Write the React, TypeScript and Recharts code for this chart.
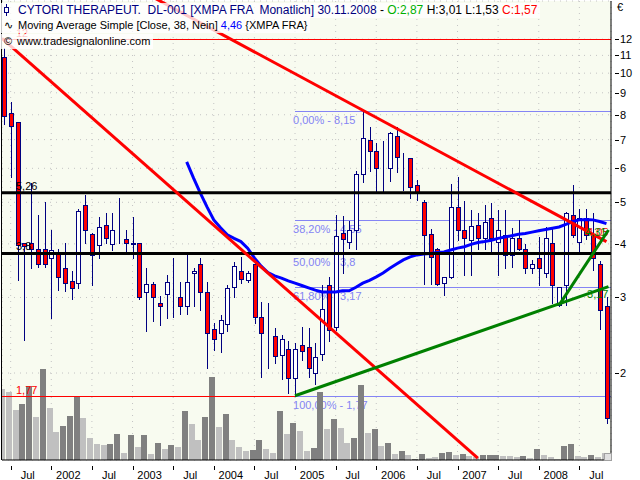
import React from 'react';
import { ComposedChart, Bar, Line, XAxis, YAxis, CartesianGrid, ReferenceLine } from 'recharts';

const FONT = "'Liberation Sans', Arial, sans-serif";
const NAVY = '#000080';
const FIB_COLOR = '#8484f4';
const GRID_COLOR = '#c4c4c4';

// Monthly candles, Jun 2001 .. Nov 2008 (index 0..89), price in EUR
const OPEN = [10.89, 8.06, 7.68, 4.01, 4.01, 3.90, 3.89, 3.70, 3.79, 3.51,
  3.28, 3.25, 4.93, 4.22, 3.98, 4.43, 3.99, 4.12, 4.10, 4.01,
  4.01, 3.09, 3.22, 2.91, 3.05, 3.09, 3.01, 2.87, 3.42, 3.60,
  3.09, 2.53, 2.48, 2.60, 3.17, 3.46, 3.30, 3.60, 2.70, 2.46,
  2.44, 2.20, 2.28, 1.95, 2.32, 2.30, 2.00, 2.22, 3.21, 2.56,
  4.25, 4.03, 4.32, 5.82, 6.99, 6.59, 6.02, 6.02, 7.14, 6.33,
  6.33, 5.49, 5.00, 4.21, 3.90, 3.25, 3.34, 4.88, 4.31, 4.08,
  4.43, 4.12, 4.60, 4.03, 4.20, 3.77, 4.12, 3.90, 3.51, 3.70,
  3.42, 4.01, 2.88, 3.21, 4.67, 4.05, 4.59, 4.20, 3.60, 2.87];
const HIGH = [11.45, 8.58, 7.70, 4.02, 5.54, 4.67, 5.02, 4.31, 3.89, 4.01,
  3.46, 4.82, 5.20, 4.23, 4.63, 4.71, 4.71, 5.13, 4.31, 4.63,
  4.02, 3.51, 3.26, 3.02, 3.38, 3.70, 3.26, 3.77, 3.51, 3.70,
  3.26, 2.61, 2.73, 3.21, 3.62, 3.72, 3.45, 3.63, 2.93, 2.92,
  2.54, 2.45, 2.38, 2.35, 2.56, 2.54, 2.35, 3.21, 3.35, 4.67,
  4.65, 4.53, 5.92, 8.15, 7.50, 6.89, 6.95, 7.30, 7.50, 6.51,
  6.35, 5.64, 5.06, 4.33, 3.92, 3.35, 5.52, 5.72, 5.04, 4.80,
  4.71, 4.93, 4.97, 4.80, 4.80, 4.35, 4.55, 4.00, 3.67, 4.16,
  4.39, 4.33, 3.18, 4.75, 5.49, 4.82, 4.82, 4.71, 3.64, 3.01];
const LOW = [7.61, 5.74, 3.29, 2.39, 3.51, 3.54, 3.54, 2.68, 3.12, 3.11,
  2.97, 3.15, 4.01, 3.21, 3.70, 4.01, 3.87, 4.01, 3.86, 3.70,
  2.98, 2.50, 2.65, 2.59, 2.68, 2.70, 2.75, 2.75, 2.86, 2.80,
  2.05, 2.26, 2.24, 2.50, 3.01, 3.24, 3.26, 2.61, 1.96, 2.05,
  2.11, 1.94, 1.80, 1.77, 2.14, 1.96, 1.89, 2.14, 2.38, 2.52,
  3.43, 3.92, 3.89, 5.58, 5.92, 5.32, 5.32, 5.61, 5.89, 5.34,
  5.11, 5.06, 3.23, 3.23, 3.20, 3.04, 3.33, 4.08, 3.38, 3.38,
  3.90, 3.90, 3.83, 3.38, 3.51, 3.54, 3.87, 3.42, 3.42, 3.21,
  3.35, 2.91, 2.87, 2.88, 4.16, 3.81, 4.10, 3.48, 2.53, 1.53];
const CLOSE = [7.96, 7.53, 3.98, 3.95, 3.90, 3.60, 3.60, 3.87, 3.35, 3.25,
  3.15, 4.77, 4.31, 3.77, 4.37, 4.12, 4.31, 4.12, 4.01, 3.99,
  3.00, 3.22, 3.00, 2.86, 3.26, 3.09, 2.87, 3.26, 3.46, 3.09,
  2.48, 2.40, 2.66, 3.15, 3.55, 3.31, 3.42, 2.70, 2.48, 2.46,
  2.19, 2.40, 1.95, 2.27, 2.25, 2.06, 2.18, 2.82, 2.52, 4.17,
  4.10, 4.32, 5.82, 7.05, 6.59, 6.02, 6.02, 7.24, 6.39, 6.33,
  5.42, 5.25, 4.20, 3.72, 3.23, 3.34, 4.88, 4.31, 4.12, 4.40,
  4.12, 4.51, 4.12, 4.32, 3.77, 4.12, 3.90, 3.51, 3.60, 3.51,
  4.12, 3.21, 3.18, 4.71, 4.20, 4.60, 4.20, 3.70, 2.80, 1.57];
// Volume (relative units) and its bar shade (1 = dark grey, 0 = light grey)
const VOLUME = [71, 68, 50, 56, 74, 43, 91, 52, 28, 34,
  44, 63, 42, 22, 16, 15, 16, 26, 7, 25,
  13, 25, 6, 17, 11, 15, 13, 49, 36, 20,
  43, 83, 33, 46, 20, 13, 9, 10, 20, 11,
  7, 49, 26, 37, 29, 9, 12, 68, 31, 41,
  32, 17, 22, 75, 27, 31, 14, 17, 6, 9,
  5, 1, 6, 2, 3, 7, 8, 5, 6, 4,
  3, 5, 5, 5, 4, 4, 3, 4, 2, 11,
  5, 3, 1, 14, 16, 4, 3, 5, 3, 7];
const VOL_DARK = [0, 0, 0, 1, 1, 0, 1, 0, 0, 1,
  1, 1, 0, 0, 0, 0, 1, 1, 0, 1,
  0, 1, 0, 1, 0, 1, 0, 1, 0, 0,
  1, 1, 0, 1, 0, 0, 0, 1, 1, 0,
  0, 1, 0, 1, 0, 0, 1, 1, 0, 1,
  0, 0, 1, 1, 0, 1, 0, 1, 0, 1,
  0, 1, 1, 0, 0, 1, 1, 0, 1, 0,
  0, 1, 1, 1, 0, 0, 0, 1, 0, 1,
  0, 0, 0, 1, 1, 0, 0, 1, 0, 0];
// Simple moving average (38), visible from index 27
const MA_VISIBLE = [6.21, 5.70, 5.26, 4.88, 4.55, 4.36, 4.20, 4.12, 4.05, 3.91,
  3.71, 3.55, 3.43, 3.37, 3.33, 3.28, 3.24, 3.20, 3.16, 3.12,
  3.09, 3.09, 3.09, 3.11, 3.11, 3.17, 3.24, 3.29, 3.35, 3.42,
  3.51, 3.59, 3.67, 3.73, 3.77, 3.79, 3.80, 3.82, 3.83, 3.87,
  3.91, 3.94, 3.99, 4.03, 4.05, 4.08, 4.12, 4.15, 4.18, 4.21,
  4.23, 4.26, 4.29, 4.32, 4.35, 4.38, 4.44, 4.51, 4.55, 4.56,
  4.55, 4.51, 4.46];
const MA_START = 27;

const X_MIN = -0.28;
const X_MAX = 89.67;
const X_TICKS = [1, 7, 13, 19, 25, 31, 37, 43, 49, 55, 61, 67, 73, 79, 85];
const X_TICK_LABELS = ['Jul', '2002', 'Jul', '2003', 'Jul', '2004', 'Jul', '2005', 'Jul', '2006', 'Jul', '2007', 'Jul', '2008', 'Jul'];
const Y_TICKS = [2, 3, 4, 5, 6, 7, 8, 9, 10, 11, 12];
const Y_MIN = 1.254;
const Y_MAX = 14.73;
const VOL_MAX = 459;

const FIB_VALUES = [8.15, 4.55, 3.8, 3.17, 1.77];
const FIB_LABELS = ['0,00% - 8,15', '38,20% - 4,55', '50,00% - 3,8', '61,80% - 3,17', '100,00% - 1,77'];
const FIB_START = 43;

const BLACK_LEVELS = [5.26, 3.8];
const BLACK_LABELS = ['5,26', '3,8'];
const RED_LEVELS = [12, 1.77];
const RED_LABELS = ['12', '1,77'];
const RED_LEVEL_END = [X_MAX, 43];

const TREND_RED_A = [[X_MIN, 12.05], [70, 1.266]];
const TREND_RED_B = [[22, 15.04], [89, 4.05]];
const TREND_GREEN_C = [[43, 1.77], [89.3, 3.18]];
const TREND_GREEN_D = [[82, 2.88], [89.3, 4.31]];
const TREND_LABELS = ['4,05', '3,17', '4,31'];

const data = OPEN.map((o, i) => ({
  i,
  open: o,
  high: HIGH[i],
  low: LOW[i],
  close: CLOSE[i],
  vol: VOLUME[i],
  dark: VOL_DARK[i],
  ma: i >= MA_START ? MA_VISIBLE[i - MA_START] : null,
}));

const Candle = (props: any) => {
  const { x, y, width, height, payload } = props;
  if (!payload || x == null || y == null) return null;
  const top = Math.min(y, y + height);
  const bot = Math.max(y, y + height);
  const lh = Math.log(payload.high);
  const ll = Math.log(payload.low);
  const span = lh - ll || 1;
  const py = (v: number) => top + ((lh - Math.log(v)) / span) * (bot - top);
  const cx = Math.round(x + width / 2) + 0.5;
  const yo = py(payload.open);
  const yc = py(payload.close);
  const up = payload.close >= payload.open;
  const bTop = Math.round(Math.min(yo, yc)) + 0.5;
  const bBot = Math.round(Math.max(yo, yc)) + 0.5;
  return (
    <g>
      <line x1={cx} x2={cx} y1={Math.round(top)} y2={Math.round(bot) + 1} stroke={NAVY} strokeWidth={1} />
      <rect x={cx - 2} y={bTop} width={4} height={Math.max(0, bBot - bTop)} fill={up ? '#ffffff' : '#ff0000'} stroke={NAVY} strokeWidth={1} />
    </g>
  );
};

const VolBar = (props: any) => {
  const { x, y, width, height, payload } = props;
  if (!payload || x == null) return null;
  const top = Math.round(Math.min(y, y + height));
  const bot = Math.round(Math.max(y, y + height));
  return <rect x={Math.round(x)} y={top} width={Math.round(width)} height={bot - top} fill={payload.dark ? '#808080' : '#c0c0c0'} />;
};

const XTick = (props: any) => {
  const { x, y, payload } = props;
  const idx = X_TICKS.indexOf(payload.value);
  const tx = Math.round(x) + 0.5;
  return (
    <g>
      <line x1={tx} x2={tx} y1={y + 4} y2={y + 8} stroke="#000" />
      <text x={x + 17} y={y + 17} textAnchor="middle" fontSize={11} fontFamily={FONT} fill="#000">
        {X_TICK_LABELS[idx]}
      </text>
    </g>
  );
};

const YTick = (props: any) => {
  const { x, y, payload } = props;
  const ty = Math.round(y) + 0.5;
  return (
    <g>
      <line x1={x + 2} x2={x + 6} y1={ty} y2={ty} stroke="#000" />
      <text x={x + 7} y={y + 4} fontSize={11} fontFamily={FONT} fill="#000">
        {payload.value}
      </text>
    </g>
  );
};

const labeledLine = (text: string, color: string, where: 'start' | 'end', dx: number, dy: number, anchor: string, crisp: boolean) => (p: any) => {
  const y1 = crisp ? Math.round(p.y1) + 0.5 : p.y1;
  const y2 = crisp ? Math.round(p.y2) + 0.5 : p.y2;
  const bx = where === 'start' ? p.x1 : p.x2;
  const by = where === 'start' ? p.y1 : p.y2;
  return (
    <g>
      <line x1={p.x1} y1={y1} x2={p.x2} y2={y2} stroke={p.stroke} strokeWidth={p.strokeWidth} />
      <text x={bx + dx} y={by + dy} textAnchor={anchor} fontSize={11} fontFamily={FONT} fill={color}>
        {text}
      </text>
    </g>
  );
};

const plainLine = (crisp: boolean) => (p: any) => {
  const y1 = crisp ? Math.round(p.y1) + 0.5 : p.y1;
  const y2 = crisp ? Math.round(p.y2) + 0.5 : p.y2;
  return <line x1={p.x1} y1={y1} x2={p.x2} y2={y2} stroke={p.stroke} strokeWidth={p.strokeWidth} strokeLinecap="butt" />;
};

const seg = (pts: number[][]) => pts.map(([x, y]) => ({ x, y }));

const rowStyle = (top: number, size: number): React.CSSProperties => ({
  position: 'absolute',
  left: 0,
  top,
  height: 15,
  lineHeight: '15px',
  paddingLeft: 18,
  paddingRight: 3,
  background: 'rgba(255,255,255,0.78)',
  fontFamily: FONT,
  fontSize: size,
  whiteSpace: 'pre',
  color: '#000',
});

const front: any = { isFront: true, zIndex: 450 };

export default function App() {
  return (
    <div style={{ position: 'absolute', left: 0, top: 0, width: 640, height: 480, background: '#fff', overflow: 'hidden' }}>
      <ComposedChart width={640} height={480} data={data} margin={{ top: 1, right: 0, bottom: 0, left: 2 }}>
        <XAxis xAxisId="main" dataKey="i" type="number" domain={[X_MIN, X_MAX]} allowDataOverflow ticks={X_TICKS}
          tick={<XTick />} tickLine={false} tickSize={0} height={20} axisLine={{ stroke: '#000' }} interval={0} />
        <XAxis xAxisId="vol" dataKey="i" type="number" domain={[X_MIN + 0.2, X_MAX + 0.2]} allowDataOverflow hide />
        <YAxis yAxisId="price" orientation="right" scale="log" domain={[Y_MIN, Y_MAX]} allowDataOverflow ticks={Y_TICKS}
          tick={<YTick />} tickLine={false} tickSize={0} width={29} axisLine={{ stroke: '#000' }} interval={0} />
        <YAxis yAxisId="vol" domain={[0, VOL_MAX]} allowDataOverflow hide />
        <CartesianGrid xAxisId="main" yAxisId="price" stroke={GRID_COLOR} strokeDasharray="1 5" fill="#f8fbf0" fillOpacity={1} />

        <Bar xAxisId="vol" yAxisId="vol" dataKey="vol" barSize={6} shape={<VolBar />} isAnimationActive={false} />

        {FIB_VALUES.map((v, k) => (
          <ReferenceLine key={'fib' + k} xAxisId="main" yAxisId="price" ifOverflow="hidden" zIndex={250}
            segment={[{ x: FIB_START, y: v }, { x: X_MAX, y: v }]} stroke={FIB_COLOR} strokeWidth={1}
            shape={labeledLine(FIB_LABELS[k], FIB_COLOR, 'start', -2, 13, 'start', true)} />
        ))}

        <Bar xAxisId="main" yAxisId="price" dataKey={(d: any) => [d.low, d.high]} barSize={5} shape={<Candle />} isAnimationActive={false} />

        {RED_LEVELS.map((v, k) => (
          <ReferenceLine key={'red' + k} xAxisId="main" yAxisId="price" ifOverflow="hidden" {...front}
            segment={[{ x: X_MIN, y: v }, { x: RED_LEVEL_END[k], y: v }]} stroke="#ff0000" strokeWidth={1}
            shape={labeledLine(RED_LABELS[k], '#ff0000', 'start', 14, -2, 'start', true)} />
        ))}
        {BLACK_LEVELS.map((v, k) => (
          <ReferenceLine key={'blk' + k} xAxisId="main" yAxisId="price" ifOverflow="hidden" {...front}
            segment={[{ x: X_MIN, y: v }, { x: X_MAX, y: v }]} stroke="#000" strokeWidth={3}
            shape={labeledLine(BLACK_LABELS[k], '#000', 'start', 14, -3, 'start', false)} />
        ))}

        <ReferenceLine xAxisId="main" yAxisId="price" ifOverflow="hidden" {...front} segment={seg(TREND_RED_A)} stroke="#ff0000" strokeWidth={3} shape={plainLine(false)} />
        <ReferenceLine xAxisId="main" yAxisId="price" ifOverflow="hidden" {...front} segment={seg(TREND_RED_B)} stroke="#ff0000" strokeWidth={3}
          shape={labeledLine(TREND_LABELS[0], '#ff0000', 'end', 2, -6, 'end', false)} />
        <ReferenceLine xAxisId="main" yAxisId="price" ifOverflow="hidden" {...front} segment={seg(TREND_GREEN_C)} stroke="#008000" strokeWidth={3}
          shape={labeledLine(TREND_LABELS[1], '#008000', 'end', 0, 11, 'end', false)} />
        <ReferenceLine xAxisId="main" yAxisId="price" ifOverflow="hidden" {...front} segment={seg(TREND_GREEN_D)} stroke="#008000" strokeWidth={3}
          shape={labeledLine(TREND_LABELS[2], '#008000', 'end', -2, 6, 'end', false)} />

        <Line xAxisId="main" yAxisId="price" dataKey="ma" stroke="#0000ff" strokeWidth={3} dot={false} activeDot={false}
          connectNulls={false} isAnimationActive={false} type="linear" />
      </ComposedChart>

      <div style={{ position: 'absolute', left: 1, top: 0, width: 1, height: 460, background: '#000' }} />
      <div style={{ position: 'absolute', left: 604, top: 453, width: 6, height: 6, border: '1px solid #a0a0a0', background: '#e0e0e0' }} />
      <div style={{ position: 'absolute', left: 617, top: 0, fontFamily: FONT, fontSize: 11, lineHeight: '15px' }}>€</div>

      <div style={rowStyle(3, 12)}>
        <svg width={8} height={12} style={{ position: 'absolute', left: 3, top: 1 }}>
          <line x1={3.5} x2={3.5} y1={0} y2={12} stroke={NAVY} />
          <rect x={1.5} y={3.5} width={4} height={5} fill="#fff" stroke={NAVY} />
        </svg>
        <span style={{ color: NAVY }}>CYTORI THERAPEUT.  DL-001 [XMPA FRA  Monatlich] 30.11.2008</span>
        <span> - </span>
        <span style={{ color: '#00b000' }}>O:2,87</span>
        <span> H:3,01 L:1,53 </span>
        <span style={{ color: '#ff0000' }}>C:1,57</span>
      </div>
      <div style={rowStyle(18, 11)}>
        <span style={{ position: 'absolute', left: 4, top: 0 }}>∿</span>
        <span>Moving Average Simple [Close, 38, Nein] </span>
        <span style={{ color: '#0000ff' }}>4,46</span>
        <span> {'{XMPA FRA}'}</span>
      </div>
      <div style={{ ...rowStyle(34, 11), paddingLeft: 17 }}>
        <span style={{ position: 'absolute', left: 4, top: 0 }}>©</span>
        <span>www.tradesignalonline.com</span>
      </div>
    </div>
  );
}
